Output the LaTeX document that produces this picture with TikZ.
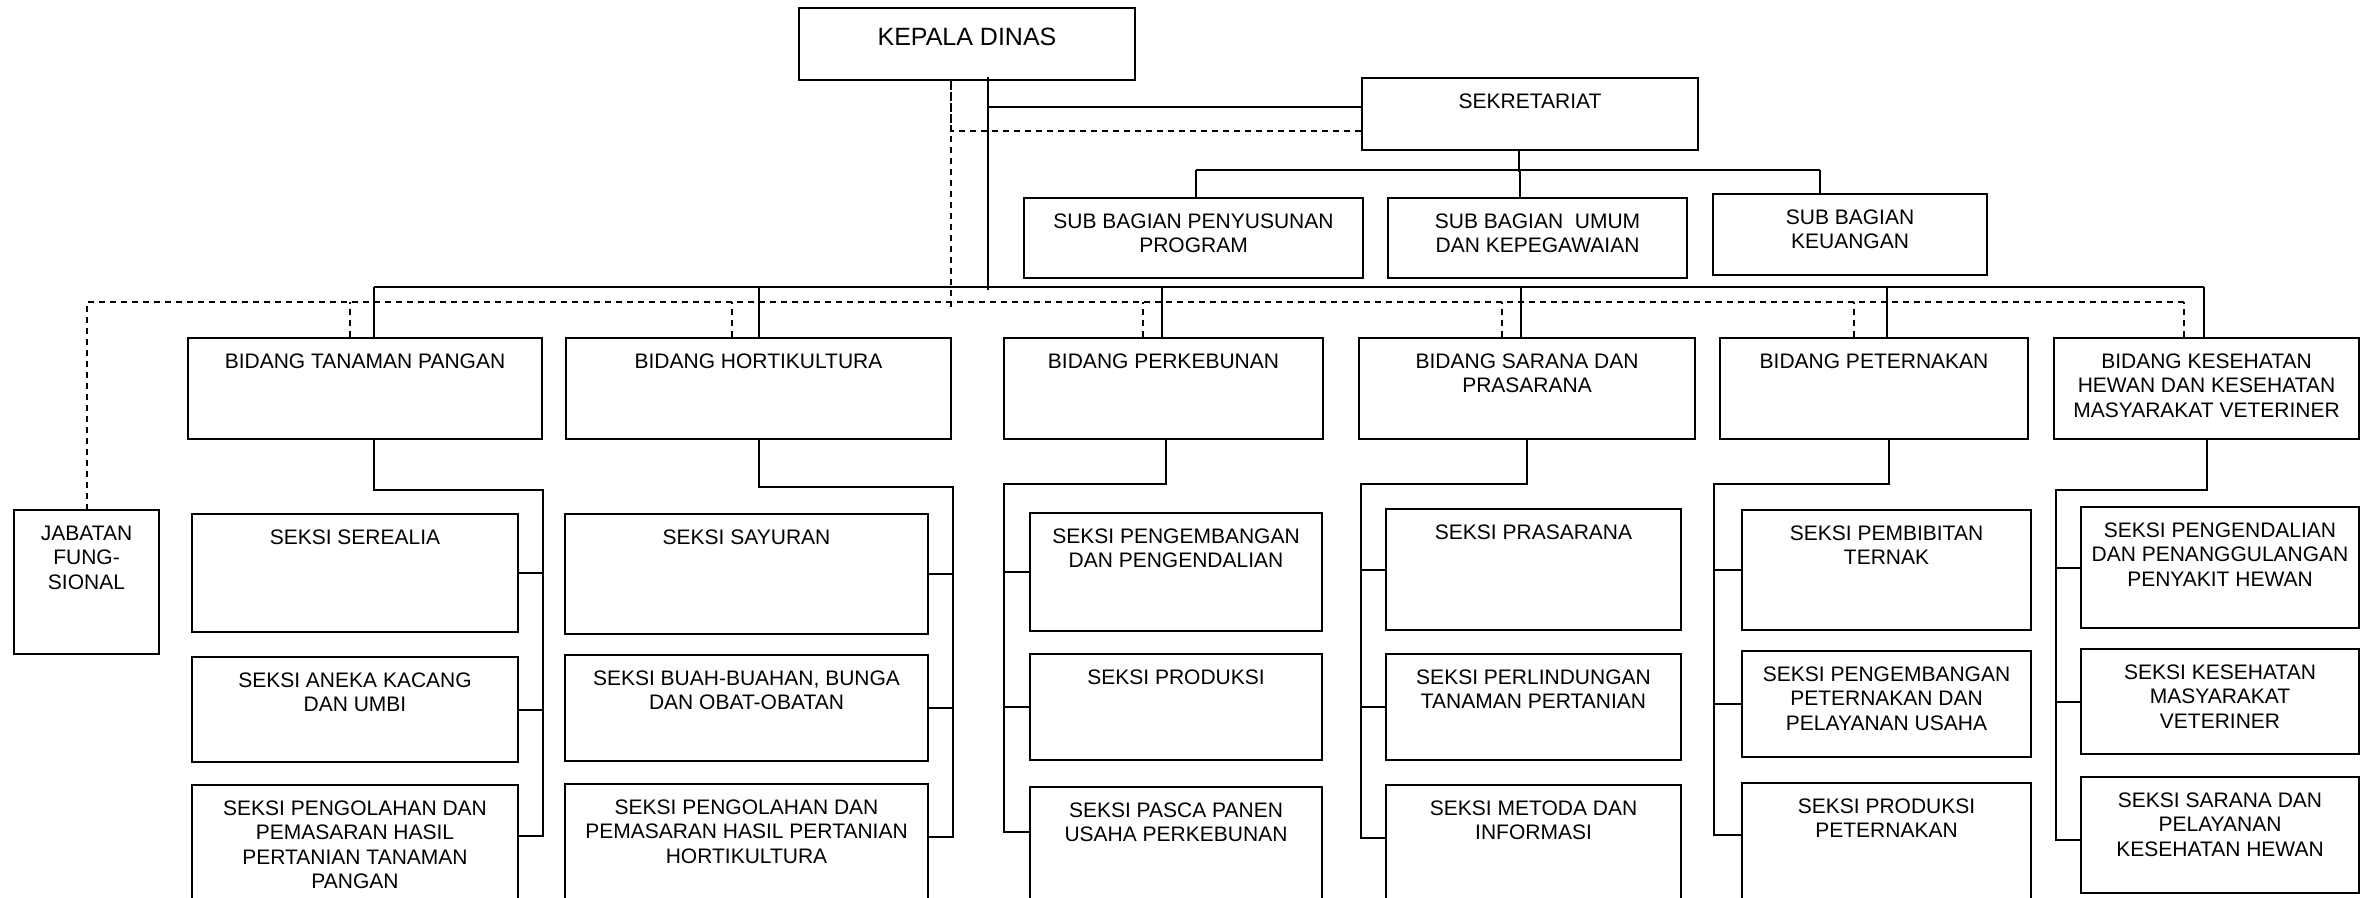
\documentclass[tikz,border=0pt]{standalone}
\usepackage{fontspec}
\setmainfont{Liberation Sans}
\begin{document}
\begin{tikzpicture}
[x=1pt,y=-1pt,
 orgbox/.style={draw,line width=2pt,inner sep=0pt,anchor=north west,
   font=\fontsize{21}{24.5}\selectfont},
 conline/.style={line width=2pt},
 dashline/.style={line width=2pt,dash pattern=on 6pt off 5pt}]
\useasboundingbox (0,0) rectangle (2365,897);
\clip (0,0) rectangle (2365,897);
%% the boxes
\node[orgbox,font=\fontsize{25}{29}\selectfont] (kepala) at (798,7)
  {\parbox[c][72pt][t]{336pt}{\centering\rule{0pt}{37pt}KEPALA DINAS}};
\foreach \name/\x/\y/\w/\h/\txt in {
  sekre/1361/77/336/72/SEKRETARIAT,
  subprog/1023/197/339/80/SUB BAGIAN PENYUSUNAN\\PROGRAM,
  subumum/1387/197/299/80/SUB BAGIAN\ \ UMUM\\DAN KEPEGAWAIAN,
  subuang/1712/193/274/81/SUB BAGIAN\\KEUANGAN,
  tp/187/337/354/101/BIDANG TANAMAN PANGAN,
  hort/565/337/385/101/BIDANG HORTIKULTURA,
  kebun/1003/337/319/101/BIDANG PERKEBUNAN,
  sarana/1358/337/336/101/BIDANG SARANA DAN\\PRASARANA,
  ternak/1719/337/308/101/BIDANG PETERNAKAN,
  keswan/2053/337/305/101/BIDANG KESEHATAN\\HEWAN DAN KESEHATAN\\MASYARAKAT VETERINER,
  jabfung/13/509/145/144/JABATAN\\FUNG-\\SIONAL,
  tp1/191/513/326/118/SEKSI SEREALIA,
  tp2/191/656/326/105/SEKSI ANEKA KACANG\\DAN UMBI,
  tp3/191/784/326/130/SEKSI PENGOLAHAN DAN\\PEMASARAN HASIL\\PERTANIAN TANAMAN\\PANGAN,
  hort1/564/513/363/120/SEKSI SAYURAN,
  hort2/564/654/363/106/{SEKSI BUAH-BUAHAN, BUNGA\\DAN OBAT-OBATAN},
  hort3/564/783/363/130/SEKSI PENGOLAHAN DAN\\PEMASARAN HASIL PERTANIAN\\HORTIKULTURA,
  kebun1/1029/512/292/118/SEKSI PENGEMBANGAN\\DAN PENGENDALIAN,
  kebun2/1029/653/292/106/SEKSI PRODUKSI,
  kebun3/1029/786/292/130/SEKSI PASCA PANEN\\USAHA PERKEBUNAN,
  sarana1/1385/508/295/121/SEKSI PRASARANA,
  sarana2/1385/653/295/106/SEKSI PERLINDUNGAN\\TANAMAN PERTANIAN,
  sarana3/1385/784/295/130/SEKSI METODA DAN\\INFORMASI,
  ternak1/1741/509/289/120/SEKSI PEMBIBITAN\\TERNAK,
  ternak2/1741/650/289/106/SEKSI PENGEMBANGAN\\PETERNAKAN DAN\\PELAYANAN USAHA,
  ternak3/1741/782/289/130/SEKSI PRODUKSI\\PETERNAKAN,
  keswan1/2080/506/278/121/SEKSI PENGENDALIAN\\DAN PENANGGULANGAN\\PENYAKIT HEWAN,
  keswan2/2080/648/278/105/SEKSI KESEHATAN\\MASYARAKAT\\VETERINER,
  keswan3/2080/776/278/116/SEKSI SARANA DAN\\PELAYANAN\\KESEHATAN HEWAN} {
  \node[orgbox] (\name) at (\x,\y)
    {\parbox[c][\h pt][t]{\w pt}{\centering\rule{0pt}{30pt}\txt}};
}
%% kepala dinas to sekretariat and the bidang line
\draw[conline] ([yshift=7]sekre.west) -| ([xshift=21,yshift=4]kepala.south);
\draw[conline] ([xshift=21]kepala.south) -- ++(0,209);
\draw[dashline] ([yshift=-17]sekre.west) -| ([xshift=-16]kepala.south);
\draw[dashline] ([xshift=-16]kepala.south) -- ++(0,226);
%% sekretariat to the sub bagian
\draw[conline] ([xshift=-11]sekre.south) -- ++(0,21);
\draw[conline] ([xshift=2,yshift=27]subprog.north) -- ([xshift=-30,yshift=23]subuang.north);
\foreach \s/\sh/\len in {subprog/2/27, subumum/-18/27, subuang/-30/23} {
  \draw[conline] ([xshift=\sh]\s.north) -- ++(0,-\len);
}
%% the bidang lines, solid and dashed
\draw[conline] ([xshift=9,yshift=50]tp.north) -- ([xshift=-3,yshift=50]keswan.north);
\draw[dashline] ([xshift=-23,yshift=35]keswan.north) -| (jabfung.north);
\foreach \b/\s/\d in {tp/9/-15, hort/0/-27, kebun/-2/-21, sarana/-6/-25,
  ternak/13/-20, keswan/-3/-23} {
  \draw[conline] ([xshift=\s]\b.north) -- ++(0,-50);
  \draw[dashline] ([xshift=\d]\b.north) -- ++(0,-35);
}
%% bidang to seksi
\foreach \b/\sh/\drop/\side/\gap/\last in {tp/9/50/east/24/52, hort/0/47/east/24/54,
  kebun/2/44/west/-25/46, sarana/0/44/west/-24/54, ternak/15/44/west/-27/53,
  keswan/0/50/west/-24/64} {
  \draw[conline] ([xshift=\sh]\b.south) -- ++(0,\drop)
    -| ([xshift=\gap,yshift=-\last]\b3.north \side) -- ([yshift=-\last]\b3.north \side);
  \foreach \i in {1,2} \draw[conline] (\b\i.\side) -- ++(\gap,0);
}
\end{tikzpicture}
\end{document}
